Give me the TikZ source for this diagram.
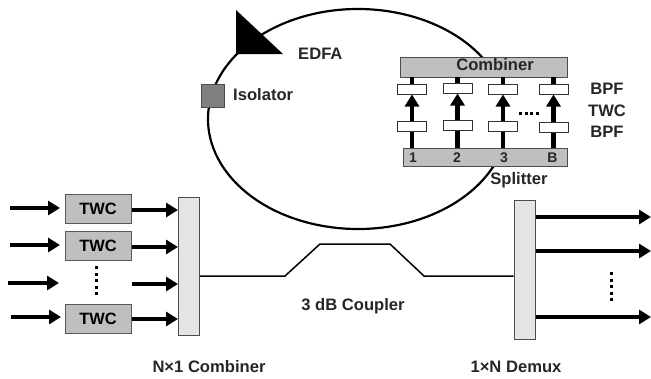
\documentclass[tikz,border=0pt]{standalone}
\usepackage{fontspec}
\setmainfont{Liberation Sans}
\usetikzlibrary{arrows.meta}
\begin{document}
\begin{tikzpicture}[x=1pt,y=-1pt,
  lbl/.style={font=\bfseries\fontsize{16.6}{18}\selectfont,text=black!85,inner sep=0pt},
  numlbl/.style={font=\bfseries\fontsize{14}{15}\selectfont,text=black!85,inner sep=0pt},
  twcbox/.style={draw=black!65,fill=black!25,line width=1pt,minimum width=66pt,minimum height=29pt,inner sep=0pt,font=\bfseries\fontsize{16.4}{18}\selectfont},
  bpfbox/.style={draw=black!80,fill=white,line width=1pt,minimum width=29pt,minimum height=10pt,inner sep=0pt},
  graybar/.style={draw=black!70,fill=black!25,line width=1pt,inner sep=0pt},
  tallbar/.style={draw=black!70,fill=black!10,line width=1pt,inner sep=0pt,minimum width=21pt},
  thickarrow/.style={line width=4.4pt,-{Triangle[length=12pt,width=14pt]}},
  fat/.style={line width=4.4pt},
  fibre/.style={line width=1.5pt},
  dotcol/.style={line width=3pt,dash pattern=on 3pt off 3.6pt}]
\useasboundingbox (0,0) rectangle (651,378);
% ring
\draw[line width=2.2pt] (358,119) ++(33:150pt and 110pt)
  arc[start angle=33,end angle=344,x radius=150pt,y radius=110pt];
% EDFA
\fill[black] (236,10) -- (283,54) -- (236,54) -- cycle;
\node[lbl,anchor=west] (edfa) at (298,54) {EDFA};
% Isolator
\node[draw=black!70,fill=black!50,line width=1pt,minimum size=23pt,inner sep=0pt] (iso) at (212.5,96) {};
\node[lbl,anchor=west] (isol) at (233,94.5) {Isolator};
% Combiner and splitter bars
\node[graybar,minimum width=167pt,minimum height=20pt] (comb) at (483.5,67) {};
\node[lbl,anchor=center] (combl) at (495,65) {Combiner};
\node[graybar,minimum width=164pt,minimum height=18pt] (split) at (485,157) {};
% Top filters
\node[bpfbox] (t1) at (412,89) {};
\node[bpfbox] (t2) at (457.5,88) {};
\node[bpfbox] (t3) at (503,89) {};
\node[bpfbox] (t4) at (553.5,89) {};
% Bottom filters
\node[bpfbox] (b1) at (412,126) {};
\node[bpfbox] (b2) at (457.5,125) {};
\node[bpfbox] (b3) at (503,126) {};
\node[bpfbox] (b4) at (553.5,127.5) {};
% vertical arrows
\foreach \i/\x in {1/412,2/457.5,3/503,4/553.5}{
  \draw[fat] (\x,77) -- (t\i.north);
  \draw[thickarrow] (b\i.north) -- (t\i.south);
  \draw[fat] (\x,148) -- (b\i.south);
}
\node[numlbl] (n1) at (413,157.5) {1};
\node[numlbl] (n2) at (457,157.5) {2};
\node[numlbl] (n3) at (504,157.5) {3};
\node[numlbl] (n4) at (552.5,157.5) {B};
\draw[line width=3pt,dash pattern=on 3pt off 2.6pt] (519,113.5) -- (541,113.5);
\node[lbl] (l1) at (607,89) {BPF};
\node[lbl] (l2) at (607,110.5) {TWC};
\node[lbl] (l3) at (607,132) {BPF};
\node[lbl,anchor=center] (spl) at (519,180) {Splitter};
% Left TWCs
\node[twcbox] (w1) at (98,208.5) {TWC};
\node[twcbox] (w2) at (98,246) {TWC};
\node[twcbox] (w4) at (98,318.5) {TWC};
\node[tallbar,minimum height=138pt] (nc) at (189,266) {};
\coordinate (i1) at (10,208);
\coordinate (i2) at (10,245);
\coordinate (i3) at (8,283);
\coordinate (i4) at (11,317);
\coordinate (i3e) at (59,283);
\coordinate (m3) at (132,284);
\draw[thickarrow] (i1) -- (60,208);
\draw[thickarrow] (i2) -- (60,245);
\draw[thickarrow] (i3) -- (i3e);
\draw[thickarrow] (i4) -- (61,317);
\draw[thickarrow] (w1.east |- 0,210) -- (nc.west |- 0,210);
\draw[thickarrow] (w2.east |- 0,247) -- (nc.west |- 0,247);
\draw[thickarrow] (m3) -- (nc.west |- m3);
\draw[thickarrow] (w4.east |- 0,319) -- (nc.west |- 0,319);
\draw[dotcol] (96,266) -- (96,296);
% Demux
\node[tallbar,minimum height=139pt] (dm) at (524.5,269.5) {};
\coordinate (o1) at (651,217);
\coordinate (o2) at (651,251);
\coordinate (o3) at (651,317);
\draw[thickarrow] (dm.east |- o1) -- (o1);
\draw[thickarrow] (dm.east |- o2) -- (o2);
\draw[thickarrow] (dm.east |- o3) -- (o3);
\draw[dotcol] (611,272) -- (611,302);
% Coupler
\draw[fibre] (nc.east |- 0,276) -- (285,276) -- (320,244) -- (390,244) -- (424,276) -- (dm.west |- 0,276);
\node[lbl] (cp) at (353,306) {3 dB Coupler};
\node[lbl] (nl) at (209,367) {N×1 Combiner};
\node[lbl] (dl) at (516,367) {1×N Demux};
\end{tikzpicture}
\end{document}
